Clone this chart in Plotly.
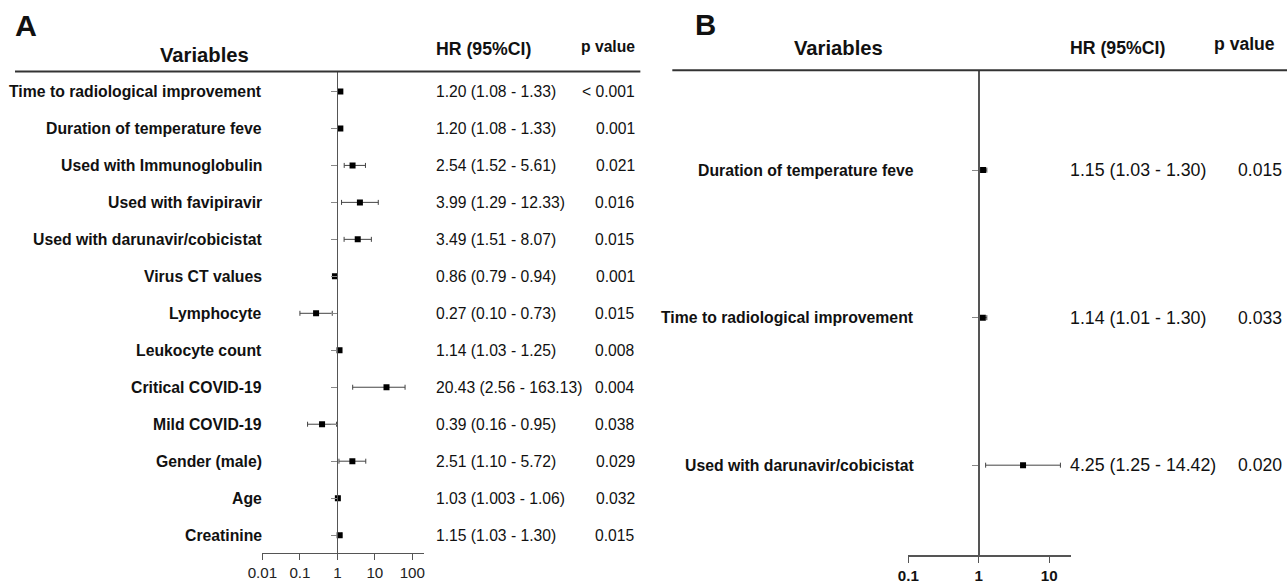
import plotly.graph_objects as go

# ---------------- Data: panel A ----------------
vars_a = ["Time to radiological improvement", "Duration of temperature feve",
          "Used with Immunoglobulin", "Used with favipiravir",
          "Used with darunavir/cobicistat", "Virus CT values", "Lymphocyte",
          "Leukocyte count", "Critical COVID-19", "Mild COVID-19",
          "Gender (male)", "Age", "Creatinine"]
hr_a = [1.20, 1.20, 2.54, 3.99, 3.49, 0.86, 0.27, 1.14, 20.43, 0.39, 2.51, 1.03, 1.15]
lo_a = [1.08, 1.08, 1.52, 1.29, 1.51, 0.79, 0.10, 1.03, 2.56, 0.16, 1.10, 1.003, 1.03]
hi_a = [1.33, 1.33, 5.61, 12.33, 8.07, 0.94, 0.73, 1.25, 64.0, 0.95, 5.72, 1.06, 1.30]
hr_text_a = ["1.20 (1.08 - 1.33)", "1.20 (1.08 - 1.33)", "2.54 (1.52 - 5.61)",
             "3.99 (1.29 - 12.33)", "3.49 (1.51 - 8.07)", "0.86 (0.79 - 0.94)",
             "0.27 (0.10 - 0.73)", "1.14 (1.03 - 1.25)", "20.43 (2.56 - 163.13)",
             "0.39 (0.16 - 0.95)", "2.51 (1.10 - 5.72)", "1.03 (1.003 - 1.06)",
             "1.15 (1.03 - 1.30)"]
p_a = ["< 0.001", "0.001", "0.021", "0.016", "0.015", "0.001", "0.015",
       "0.008", "0.004", "0.038", "0.029", "0.032", "0.015"]
ticks_a = [0.01, 0.1, 1, 10, 100]
ticklabels_a = ["0.01", "0.1", "1", "10", "100"]

# ---------------- Data: panel B ----------------
vars_b = ["Duration of temperature feve", "Time to radiological improvement",
          "Used with darunavir/cobicistat"]
hr_b = [1.15, 1.14, 4.25]
lo_b = [1.03, 1.01, 1.25]
hi_b = [1.30, 1.30, 14.42]
hr_text_b = ["1.15 (1.03 - 1.30)", "1.14 (1.01 - 1.30)", "4.25 (1.25 - 14.42)"]
p_b = ["0.015", "0.033", "0.020"]
ticks_b = [0.1, 1, 10]
ticklabels_b = ["0.1", "1", "10"]

W, H = 1288, 584
FONT = "Arial, Liberation Sans, sans-serif"
# observed page->photo mapping (horizontal): photo_x = SX * page_x + BX
SX, BX = 0.9886, 14.0
FS = 1 / SX  # font compensation


def px(x):
    return max(0.0, (x - BX) / SX) / W


def py(y):
    return 1 - y / H


def fs(s):
    return round(s * FS, 2)


# ---------------- Geometry ----------------
xa_dom = [px(261.7), px(423)]
xa_rng = [-2, 2.30]
ya_dom = [py(556.7), py(72)]
ya_rng = [12.48, -0.54]
ya_pos = xa_dom[0] + (0 - xa_rng[0]) / (xa_rng[1] - xa_rng[0]) * (xa_dom[1] - xa_dom[0])

xb_dom = [px(908.3), px(1071)]
xb_rng = [-1, 1.308]
yb_dom = [py(559), py(70.7)]
yb_rng = [2.61, -0.677]
yb_pos = xb_dom[0] + (0 - xb_rng[0]) / (xb_rng[1] - xb_rng[0]) * (xb_dom[1] - xb_dom[0])

rows_a = list(range(len(vars_a)))
rows_b = list(range(len(vars_b)))

fig = go.Figure()

fig.add_trace(go.Scatter(
    x=hr_a, y=rows_a, mode="markers", xaxis="x", yaxis="y",
    marker=dict(symbol="square", size=6, color="#000"),
    error_x=dict(type="data", symmetric=False,
                 array=[h - m for h, m in zip(hi_a, hr_a)],
                 arrayminus=[m - l for m, l in zip(hr_a, lo_a)],
                 color="#444", thickness=1, width=2.5),
    showlegend=False, hoverinfo="skip"))

fig.add_trace(go.Scatter(
    x=hr_b, y=rows_b, mode="markers", xaxis="x2", yaxis="y2",
    marker=dict(symbol="square", size=6, color="#000"),
    error_x=dict(type="data", symmetric=False,
                 array=[h - m for h, m in zip(hi_b, hr_b)],
                 arrayminus=[m - l for m, l in zip(hr_b, lo_b)],
                 color="#444", thickness=1, width=2.5),
    showlegend=False, hoverinfo="skip"))

ann = []
# Panel letters and headers
ann.append(dict(text="<b>A</b>", x=px(25.5), y=py(26), font=dict(size=fs(30))))
ann.append(dict(text="<b>Variables</b>", x=px(203.5), y=py(55), font=dict(size=fs(20))))
ann.append(dict(text="<b>HR (95%CI)</b>", x=px(433), y=py(49), xanchor="left", font=dict(size=fs(17.5))))
ann.append(dict(text="<b>p value</b>", x=px(637), y=py(47), xanchor="right", font=dict(size=fs(15.5))))

ann.append(dict(text="<b>B</b>", x=px(705), y=py(24.5), font=dict(size=fs(29))))
ann.append(dict(text="<b>Variables</b>", x=px(838), y=py(48), font=dict(size=fs(20))))
ann.append(dict(text="<b>HR (95%CI)</b>", x=px(1068), y=py(48), xanchor="left", font=dict(size=fs(17.5))))
ann.append(dict(text="<b>p value</b>", x=px(1245), y=py(44), font=dict(size=fs(17.4))))

for i, (v, t, p) in enumerate(zip(vars_a, hr_text_a, p_a)):
    ann.append(dict(text=f"<b>{v}</b>", x=px(263.5), y=i, yref="y", xanchor="right", font=dict(size=fs(15.6))))
    ann.append(dict(text=t, x=px(433.5), y=i, yref="y", xanchor="left", font=dict(size=fs(15.5))))
    ann.append(dict(text=p, x=px(637), y=i, yref="y", xanchor="right", font=dict(size=fs(15.5))))

for i, (v, t, p) in enumerate(zip(vars_b, hr_text_b, p_b)):
    ann.append(dict(text=f"<b>{v}</b>", x=px(916), y=i, yref="y2", xanchor="right", font=dict(size=fs(15.6))))
    ann.append(dict(text=t, x=px(1068), y=i, yref="y2", xanchor="left", font=dict(size=fs(17.6))))
    ann.append(dict(text=p, x=px(1260), y=i, yref="y2", font=dict(size=fs(17.4))))

for a in ann:
    a.setdefault("xref", "paper")
    a.setdefault("yref", "paper")
    a.setdefault("xanchor", "center")
    a["yanchor"] = "middle"
    a["showarrow"] = False
    a["font"].update(family=FONT, color="#111")

shapes = [
    dict(type="line", xref="paper", yref="paper", x0=px(8), x1=px(640), y0=py(72), y1=py(72),
         line=dict(color="#333", width=2)),
    dict(type="line", xref="paper", yref="paper", x0=px(672), x1=1, y0=py(70.7), y1=py(70.7),
         line=dict(color="#333", width=2)),
]

fig.update_layout(
    width=W, height=H,
    margin=dict(l=0, r=0, t=0, b=0),
    paper_bgcolor="white", plot_bgcolor="white",
    font=dict(family=FONT, color="#111"),
    annotations=ann, shapes=shapes,
    xaxis=dict(type="log", domain=xa_dom, range=xa_rng, anchor="y",
               tickvals=ticks_a, ticktext=ticklabels_a, ticks="outside", ticklen=6,
               tickcolor="#555", showline=True, linecolor="#555", linewidth=1,
               showgrid=False, zeroline=False,
               tickfont=dict(size=fs(15), color="#222", family=FONT)),
    yaxis=dict(domain=ya_dom, range=ya_rng, anchor="free", position=ya_pos,
               tickvals=rows_a, showticklabels=False, ticks="outside", ticklen=6,
               tickcolor="#888", showline=True, linecolor="#555", linewidth=1,
               showgrid=False, zeroline=False),
    xaxis2=dict(type="log", domain=xb_dom, range=xb_rng, anchor="y2",
                tickvals=ticks_b, ticktext=[f"<b>{t}</b>" for t in ticklabels_b],
                ticks="outside", ticklen=6,
                tickcolor="#555", showline=True, linecolor="#555", linewidth=1.5,
                showgrid=False, zeroline=False,
                tickfont=dict(size=fs(15), color="#111", family=FONT)),
    yaxis2=dict(domain=yb_dom, range=yb_rng, anchor="free", position=yb_pos,
                tickvals=rows_b, showticklabels=False, ticks="outside", ticklen=6,
                tickcolor="#888", showline=True, linecolor="#555", linewidth=2,
                showgrid=False, zeroline=False),
)

fig.write_html("out.html", config={"displayModeBar": False},
               post_script="document.body.style.margin='0';document.body.style.overflow='hidden';")
